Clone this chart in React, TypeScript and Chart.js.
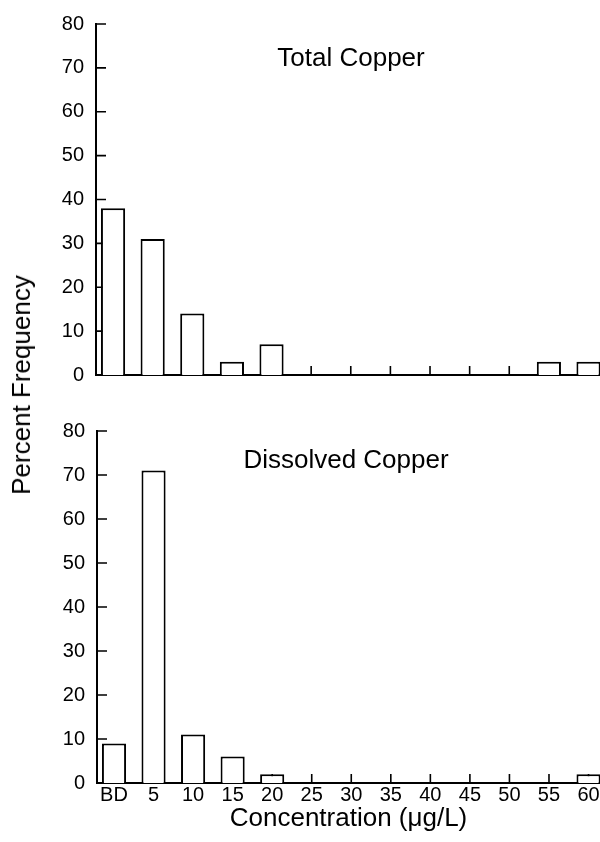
import React, { useEffect, useRef } from 'react';
import { Chart, registerables } from 'chart.js';

Chart.register(...registerables);

const FONT = "'Liberation Sans', Arial, Helvetica, sans-serif";

// ---- data ----
const categories = ['BD', '5', '10', '15', '20', '25', '30', '35', '40', '45', '50', '55', '60'];
const totalCopper = [38, 31, 14, 3, 7, 0, 0, 0, 0, 0, 0, 3, 3];
const dissolvedCopper = [9, 71, 11, 6, 2, 0, 0, 0, 0, 0, 0, 0, 2];
const yMin = 0;
const yMax = 80;
const yMajorStep = 10;
const yMinorStep = 5;
const panelTitles = ['Total Copper', 'Dissolved Copper'];
const yAxisTitle = 'Percent Frequency';
const xAxisTitle = 'Concentration (μg/L)';

const inwardTicks = {
  id: 'inwardTicks',
  beforeDatasetsDraw(chart: any) {
    const { ctx, chartArea, scales } = chart;
    const x = scales.x;
    const y = scales.y;
    ctx.save();
    ctx.strokeStyle = '#000';
    ctx.lineWidth = 1.6;
    ctx.beginPath();
    y.ticks.forEach((t: any) => {
      const py = y.getPixelForValue(t.value);
      const len = t.value % yMajorStep === 0 ? 10 : 8;
      ctx.moveTo(chartArea.left, py);
      ctx.lineTo(chartArea.left + len, py);
    });
    x.ticks.forEach((t: any) => {
      const px = x.getPixelForValue(t.value);
      ctx.moveTo(px, chartArea.bottom);
      ctx.lineTo(px, chartArea.bottom - 9);
    });
    ctx.stroke();
    ctx.restore();
  },
};

function makePanel(
  canvas: HTMLCanvasElement,
  values: number[],
  cfg: { showX: boolean; yWidth: number; xHeight: number; padTop: number }
) {
  const points = values.map((v, i) => ({ x: i, y: v }));
  return new Chart(canvas, {
    type: 'bar',
    data: {
      datasets: [
        {
          data: points as any,
          backgroundColor: '#ffffff',
          borderColor: '#000000',
          borderWidth: 2,
          categoryPercentage: 1,
          barPercentage: 0.61,
        },
      ],
    },
    options: {
      responsive: false,
      animation: false,
      events: [],
      layout: { padding: { top: cfg.padTop, left: 0, right: 0, bottom: 0 } },
      plugins: { legend: { display: false }, tooltip: { enabled: false }, title: { display: false } },
      scales: {
        x: {
          type: 'linear',
          offset: false,
          min: -0.43,
          max: 12.29,
          afterBuildTicks: (s: any) => {
            s.ticks = categories.map((_, i) => ({ value: i }));
          },
          afterFit: (s: any) => {
            s.height = cfg.xHeight;
          },
          grid: { display: false, drawTicks: false, offset: false },
          border: { display: true, color: '#000', width: 2 },
          ticks: {
            display: cfg.showX,
            autoSkip: false,
            maxRotation: 0,
            minRotation: 0,
            padding: 0,
            color: '#000',
            font: { family: FONT, size: 20 },
            callback: (v: any) => categories[Math.round(Number(v))] ?? '',
          },
          title: {
            display: cfg.showX,
            text: xAxisTitle,
            color: '#000',
            font: { family: FONT, size: 26 },
            padding: { top: 0, bottom: 8 },
          },
        },
        y: {
          type: 'linear',
          min: yMin,
          max: yMax,
          afterFit: (s: any) => {
            s.width = cfg.yWidth;
          },
          grid: { display: false, drawTicks: false },
          border: { display: true, color: '#000', width: 2 },
          ticks: {
            stepSize: yMinorStep,
            padding: 12,
            color: '#000',
            font: { family: FONT, size: 20 },
            callback: (v: any) => (Number(v) % yMajorStep === 0 ? String(v) : ''),
          },
        },
      },
    },
    plugins: [inwardTicks],
  });
}

export default function App() {
  const topRef = useRef<HTMLCanvasElement>(null);
  const botRef = useRef<HTMLCanvasElement>(null);

  useEffect(() => {
    const c1 = makePanel(topRef.current!, totalCopper, { showX: false, yWidth: 96, xHeight: 25, padTop: 24 });
    const c2 = makePanel(botRef.current!, dissolvedCopper, { showX: true, yWidth: 97, xHeight: 59, padTop: 31 });
    return () => {
      c1.destroy();
      c2.destroy();
    };
  }, []);

  const textBase: React.CSSProperties = {
    position: 'absolute',
    fontFamily: FONT,
    fontSize: 26,
    lineHeight: '26px',
    whiteSpace: 'nowrap',
    color: '#000',
    transform: 'translate(-50%, -50%)',
  };

  return (
    <div style={{ position: 'absolute', left: 0, top: 0, width: 600, height: 842, background: '#fff', overflow: 'hidden' }}>
      <canvas ref={topRef} width={600} height={400} style={{ position: 'absolute', left: 0, top: 0 }} />
      <canvas ref={botRef} width={600} height={442} style={{ position: 'absolute', left: 0, top: 400 }} />
      <div style={{ ...textBase, left: 351, top: 57 }}>{panelTitles[0]}</div>
      <div style={{ ...textBase, left: 346, top: 459 }}>{panelTitles[1]}</div>
      <div style={{ ...textBase, left: 21, top: 385, transform: 'translate(-50%, -50%) rotate(-90deg)' }}>{yAxisTitle}</div>
    </div>
  );
}
